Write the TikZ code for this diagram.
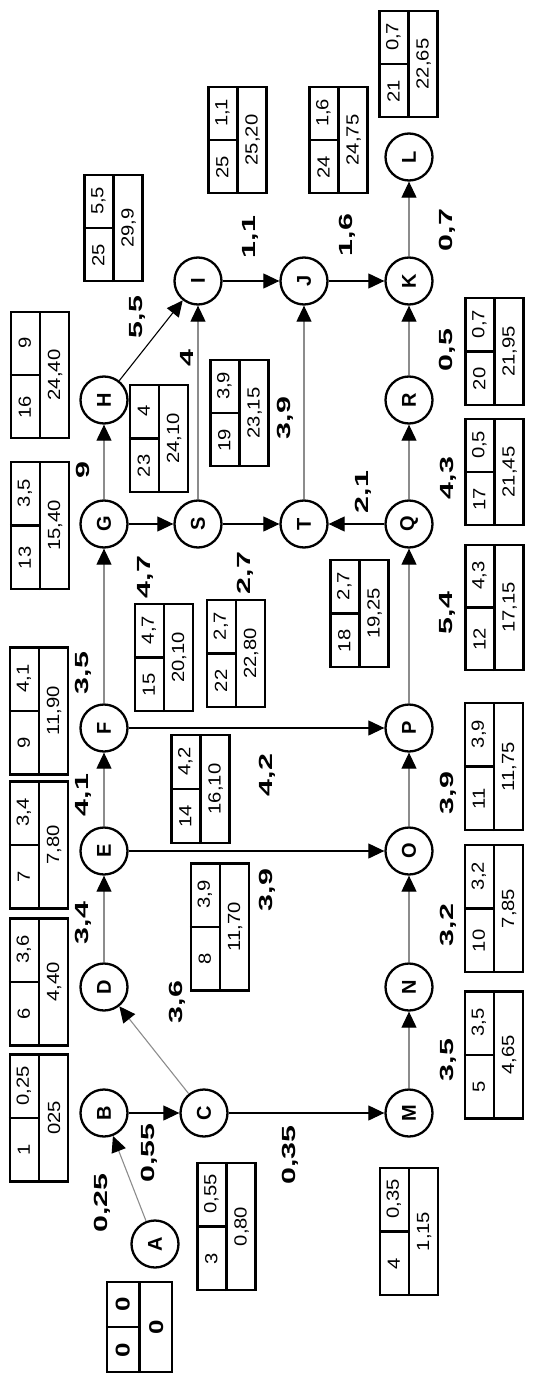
\documentclass[tikz,border=0pt]{standalone}
\usepackage{fontspec}
\setmainfont{Liberation Sans}
\usetikzlibrary{arrows.meta,calc}

\tikzset{
  evt/.style={circle, draw, line width=1.15pt, minimum size=23.5pt, inner sep=0pt, rotate=90, font=\bfseries\fontsize{10}{10}\selectfont},
  flow/.style={-{Triangle[length=8pt,width=7.5pt,color=black]}, line width=0.55pt},
  faint/.style={draw=black!45},
  strong/.style={draw=black},
  wt/.style={rotate=90, inner sep=0pt, font=\bfseries\fontsize{9.5}{9.5}\selectfont},
  tab/.style={draw, line width=1.2pt, minimum height=29pt, inner sep=0pt, rotate=90},
  cell/.style={rotate=90, inner sep=0pt, font=\fontsize{8.8}{8.8}\selectfont},
}

\begin{document}
\begin{tikzpicture}[x=0.5pt, y=-0.5pt]
\useasboundingbox (0,0) rectangle (536,1375);
% sucesos
\foreach \n/\x/\y in {A/155/1244, B/104/1113, C/204/1113, M/409/1113, D/104/987, N/409/987,
    E/104/851, O/409/851, F/104/728, P/409/728, G/104/524, S/198/524, T/304/524, Q/409/524,
    H/104/400, R/409/400, I/198/281, J/304/281, K/409/281, L/409/157}
  \node[evt] (\n) at (\x,\y) {\n};
% actividades y duraciones
\foreach \a/\b/\w/\lx/\ly/\sty in {A/B/{0,25}/102/1203/faint, B/C/{0,55}/149/1153/strong,
    C/D/{3,6}/177/1002/faint, C/M/{0,35}/290/1155/strong, D/E/{3,4}/83/923/faint,
    E/F/{4,1}/83/795/faint, E/O/{3,9}/267/890/strong, F/G/{3,5}/83/673/faint,
    F/P/{4,2}/267/775/strong, G/H/9/83/470/faint, G/S/{4,7}/145/577/strong,
    S/T/{2,7}/245/573/strong, S/I/4/187/358/faint, H/I/{5,5}/137/317/strong,
    T/J/{3,9}/285/418/faint, Q/T/{2,1}/363/492/strong, Q/R/{4,3}/448/478/faint,
    P/Q/{5,4}/447/613/faint, M/N/{3,5}/448/1060/faint, N/O/{3,2}/448/925/faint,
    O/P/{3,9}/448/793/faint, R/K/{0,5}/447/350/faint, I/J/{1,1}/250/237/strong,
    J/K/{1,6}/347/235/strong, K/L/{0,7}/447/230/faint}{
  \draw[flow,\sty] (\a) -- (\b);
  \node[wt] (w\a\b) at (\lx,\ly) {\scalebox{1.6}[1]{\w}};
}
% tablas
\foreach \bx/\x/\y/\len/\ca/\cb/\cc in {1/39/1118/63.5/1/{0,25}/025, 3/226.5/1226.5/63.5/3/{0,55}/{0,80},
    4/409/1231.5/63.5/4/{0,35}/{1,15}, 5/494/1055/63.5/5/{3,5}/{4,65}, 6/39/982/63.5/6/{3,6}/{4,40},
    7/39/845/63.5/7/{3,4}/{7,80}, 9/39/711/63.5/9/{4,1}/{11,90}, 8/220/927/63.5/8/{3,9}/{11,70},
    14/200.5/789/54/14/{4,2}/{16,10}, 10/494/908.5/63.5/10/{3,2}/{7,85},
    11/494/766.5/63.5/11/{3,9}/{11,75}, 13/40/525.5/63.5/13/{3,5}/{15,40},
    16/40/375/63/16/9/{24,40}, 23/159/438.5/53.5/23/4/{24,10}, 19/239.5/413/53/19/{3,9}/{23,15},
    15/164/657.5/53.5/15/{4,7}/{20,10}, 22/236/653.5/53.5/22/{2,7}/{22,80},
    18/359.5/613.5/53.5/18/{2,7}/{19,25}, 17/494.5/472/53/17/{0,5}/{21,45},
    12/494.5/607.5/62.5/12/{4,3}/{17,15}, 20/494.5/351.5/53.5/20/{0,7}/{21,95},
    25a/113.5/228/53/25/{5,5}/{29,9}, 25b/237.5/140/53/25/{1,1}/{25,20},
    24/338.5/140/53/24/{1,6}/{24,75}, 21/408.5/64/53/21/{0,7}/{22,65}}{
  \node[tab, minimum width=\len pt] (t\bx) at (\x,\y) {};
  \draw[line width=1.2pt] (t\bx.west) -- (t\bx.east) (t\bx.north) -- (t\bx.center);
  \node[cell] (t\bx-a) at ($(t\bx.north west)!.5!(t\bx.center)$) {\scalebox{1.15}[1]{\ca}};
  \node[cell] (t\bx-b) at ($(t\bx.north east)!.5!(t\bx.center)$) {\scalebox{1.15}[1]{\cb}};
  \node[cell] (t\bx-c) at ($(t\bx.south)!.5!(t\bx.center)$) {\scalebox{1.15}[1]{\cc}};
}
% tabla de inicio
\node[tab, minimum width=45pt, minimum height=32.5pt] (t0) at (139.5,1327) {};
\draw[line width=1.2pt] (t0.west) -- (t0.east) (t0.north) -- (t0.center);
\node[cell, font=\bfseries\fontsize{10}{10}\selectfont] (t0-a) at ($(t0.north west)!.5!(t0.center)$) {\scalebox{1.3}[1]{0}};
\node[cell, font=\bfseries\fontsize{10}{10}\selectfont] (t0-b) at ($(t0.north east)!.5!(t0.center)$) {\scalebox{1.3}[1]{0}};
\node[cell, font=\bfseries\fontsize{10}{10}\selectfont] (t0-c) at ($(t0.south)!.5!(t0.center)$) {\scalebox{1.3}[1]{0}};
\end{tikzpicture}
\end{document}
